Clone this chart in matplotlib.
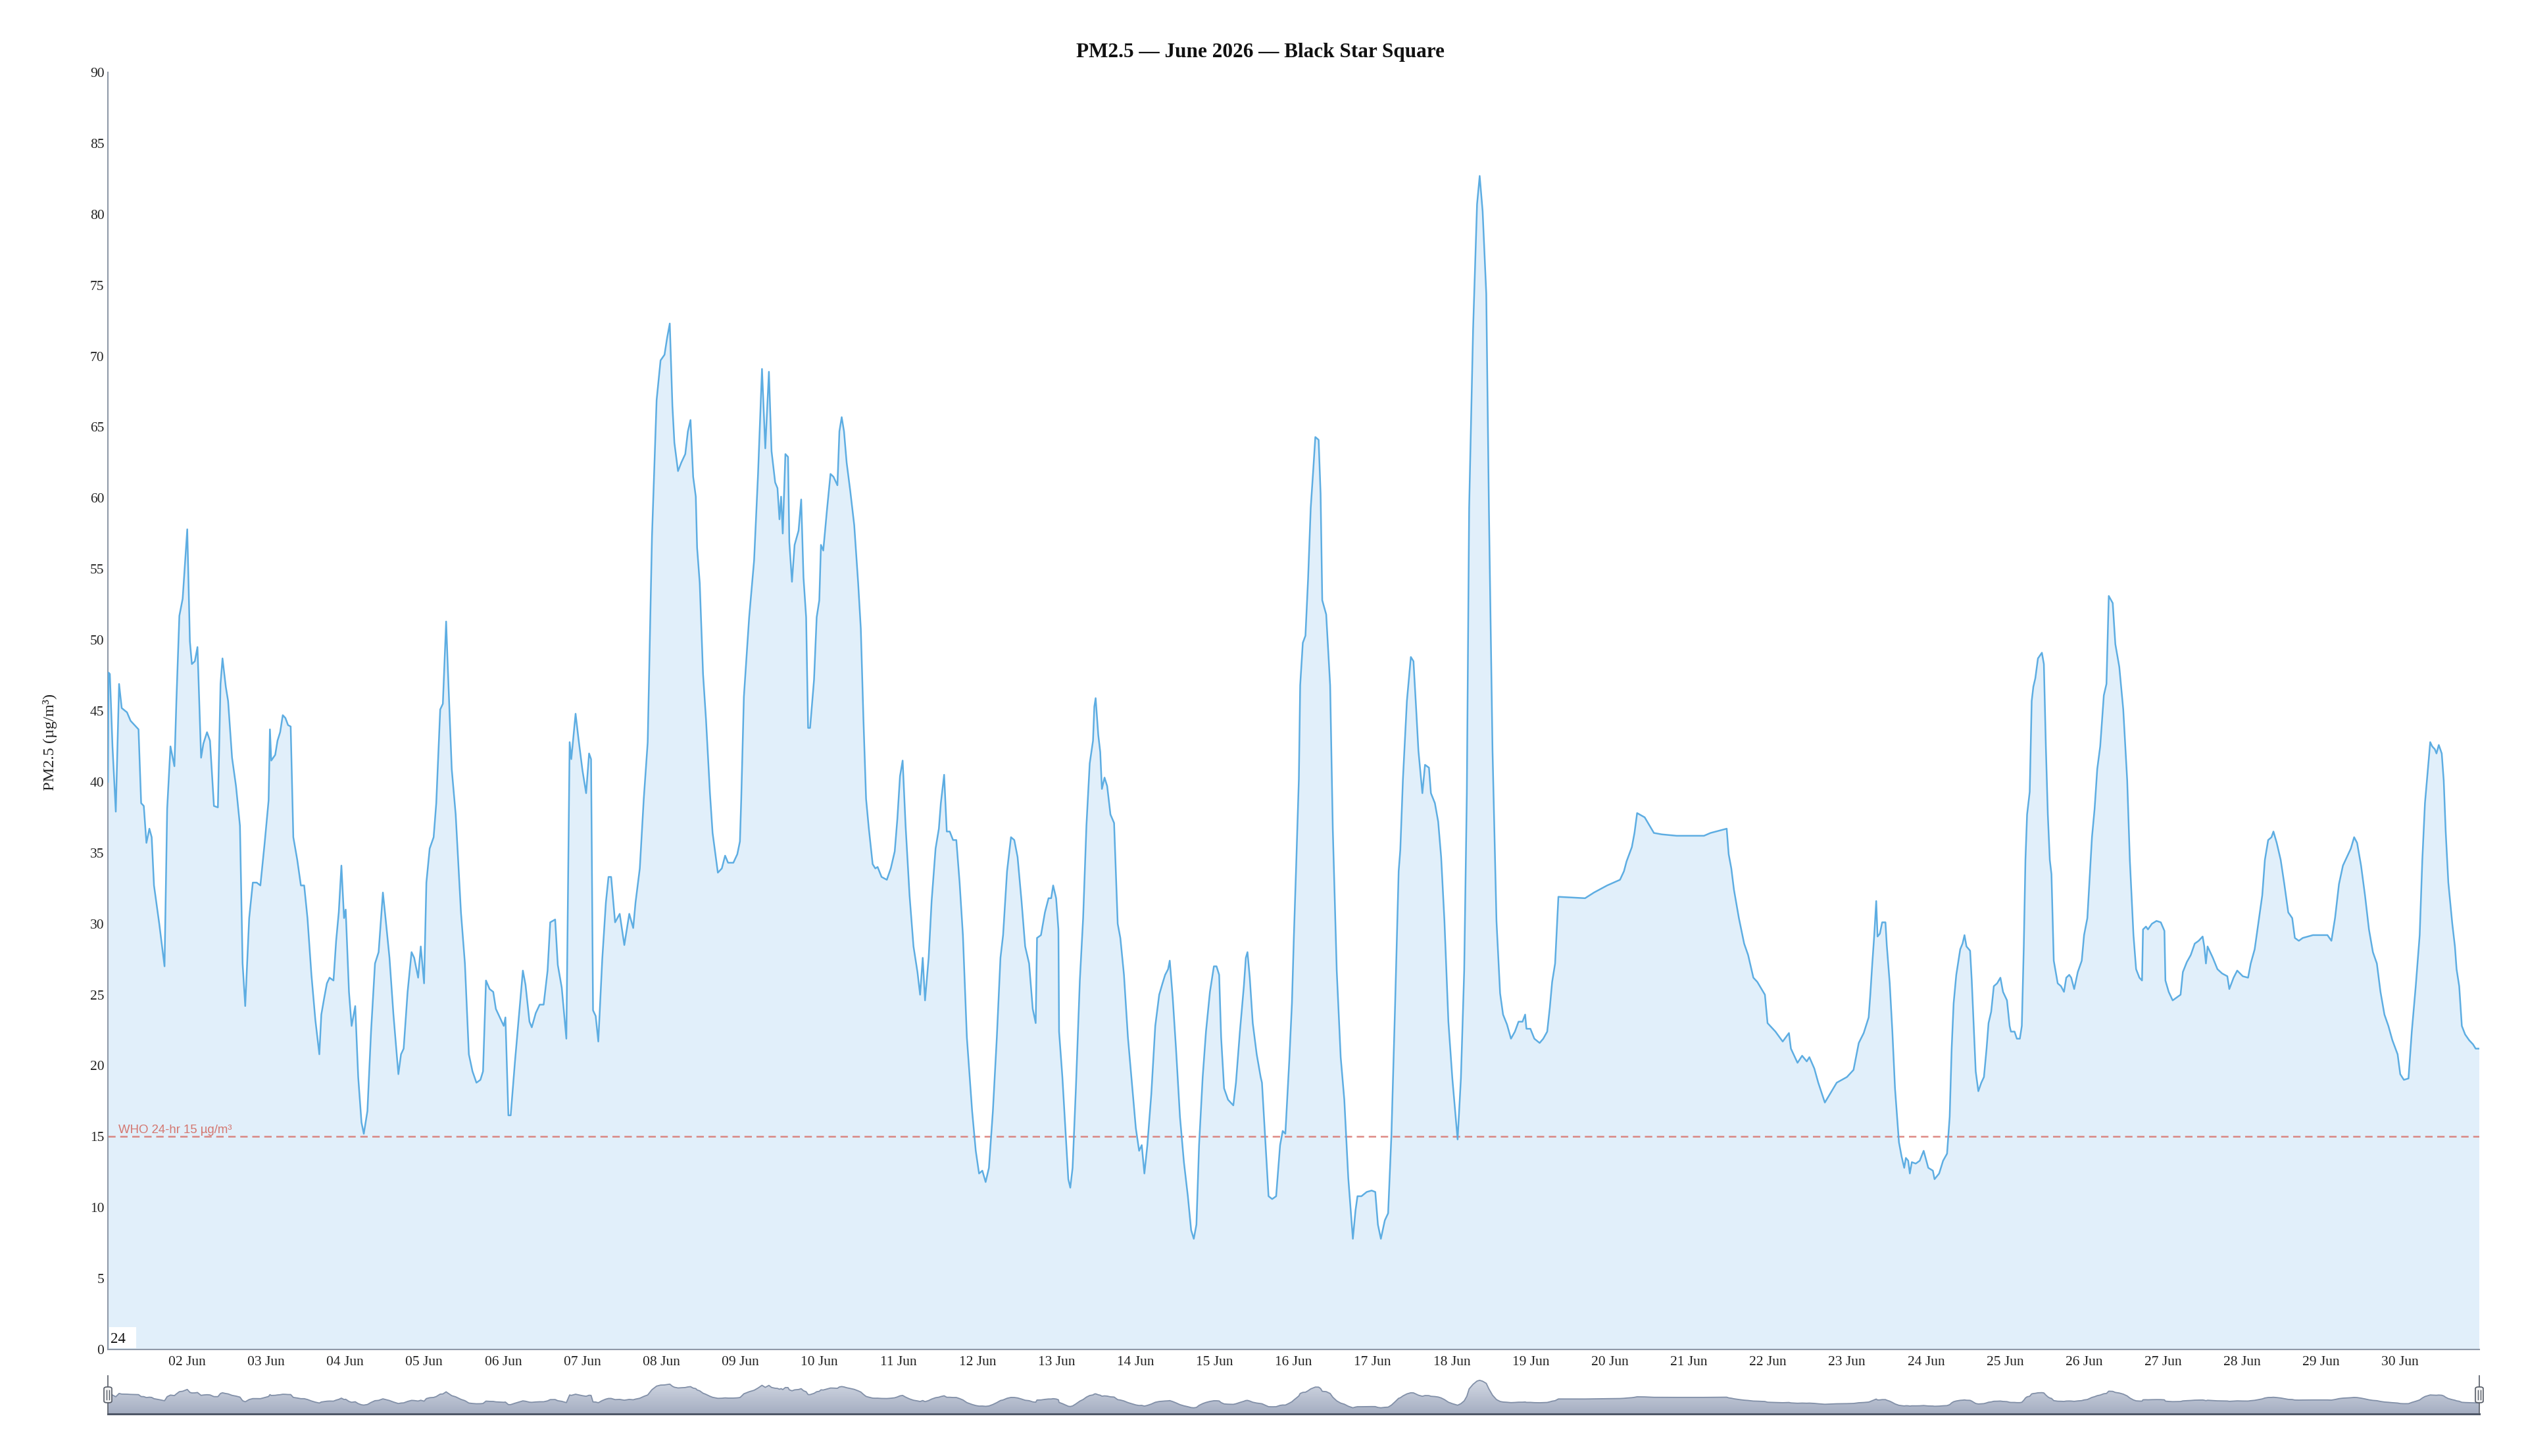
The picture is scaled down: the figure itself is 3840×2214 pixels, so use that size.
import numpy as np
import pandas as pd
import matplotlib
matplotlib.use("Agg")
import matplotlib.pyplot as plt
import matplotlib.dates as mdates
from matplotlib.colors import LinearSegmentedColormap
from matplotlib.patches import FancyBboxPatch, Rectangle

# PM2.5 readings, (hours since 01 Jun 00:00, value in ug/m3)
june_01_05 = [
    (0, 40.0), (0.2, 47.7), (0.6, 47.6), (1.4, 42.5), (2.4, 37.9), (3.4, 46.9), (4.2, 45.2),
    (5.8, 44.9), (6.9, 44.3), (9.3, 43.7), (10.1, 38.5), (10.9, 38.3), (11.7, 35.7), (12.6, 36.7),
    (13.3, 36.1), (14.0, 32.7), (15.6, 30.0), (17.2, 27.0), (18.0, 38.1), (19.0, 42.5), (20.2, 41.1),
    (20.8, 45.7), (21.7, 51.7), (22.7, 52.9), (24.1, 57.8), (24.9, 49.9), (25.5, 48.3), (26.4, 48.5),
    (27.2, 49.5), (28.3, 41.7), (29.0, 42.7), (30.1, 43.5), (31.0, 42.9), (32.2, 38.3), (33.4, 38.2),
    (34.2, 46.9), (34.8, 48.7), (35.8, 46.7), (36.5, 45.7), (37.7, 41.7), (38.9, 39.7), (40.1, 36.9),
    (40.9, 27.2), (41.7, 24.2), (42.9, 30.4), (44.0, 32.9), (45.2, 32.9), (46.3, 32.7), (47.6, 35.7),
    (48.8, 38.7), (49.2, 43.7), (49.6, 41.5), (50.8, 41.9), (51.5, 42.9), (52.3, 43.5), (53.1, 44.7),
    (53.9, 44.5), (54.7, 44.0), (55.5, 43.9), (56.3, 36.1), (57.5, 34.5), (58.6, 32.7), (59.6, 32.7),
    (60.6, 30.4), (61.8, 26.4), (63.0, 23.2), (64.2, 20.8), (64.8, 23.6), (65.7, 24.8), (66.5, 25.8),
    (67.3, 26.2), (68.5, 26.0), (69.3, 28.8), (70.1, 30.8), (70.9, 34.1), (71.7, 30.4), (72.2, 31.0),
    (73.2, 25.2), (74.0, 22.8), (75.1, 24.2), (76.0, 19.2), (77.0, 16.0), (77.7, 15.2), (78.8, 16.8),
    (79.9, 22.4), (81.1, 27.2), (82.2, 28.0), (83.5, 32.2), (84.3, 30.4), (85.5, 27.6), (86.7, 23.6),
    (88.2, 19.4), (89.0, 20.8), (89.8, 21.2), (91.0, 25.2), (92.2, 28.0), (93.0, 27.6), (94.2, 26.2),
    (95.0, 28.4), (96.0, 25.8), (96.7, 32.9), (97.7, 35.3), (98.9, 36.1), (99.7, 38.5), (100.9, 45.1),
    (101.7, 45.5), (102.7, 51.3), (103.2, 48.1), (104.4, 40.9), (105.6, 37.7), (107.2, 30.8),
    (108.4, 27.2), (109.6, 20.8), (110.7, 19.6), (111.9, 18.8), (113.1, 19.0), (113.9, 19.6),
    (114.8, 26.0), (115.9, 25.4), (117.0, 25.2), (117.8, 24.0), (119.0, 23.4), (120.2, 22.8),
]
june_06_10 = [
    (120.7, 23.4), (121.6, 16.5), (122.3, 16.5), (123.6, 20.3), (124.8, 23.5), (126.0, 26.7),
    (126.8, 25.7), (128.0, 23.1), (128.7, 22.7), (129.9, 23.7), (131.1, 24.3), (132.3, 24.3),
    (133.5, 26.7), (134.3, 30.1), (135.8, 30.3), (136.6, 27.1), (137.8, 25.5), (139.2, 21.9),
    (140.2, 42.8), (140.7, 41.6), (142.0, 44.8), (142.9, 43.0), (144.1, 40.8), (145.2, 39.2),
    (146.1, 42.0), (146.7, 41.6), (147.3, 23.9), (148.1, 23.5), (148.9, 21.7), (150.1, 27.5),
    (151.2, 31.5), (152.0, 33.3), (152.8, 33.3), (154.0, 30.1), (155.4, 30.7), (156.8, 28.5),
    (158.3, 30.7), (159.5, 29.7), (160.2, 31.5), (161.5, 33.9), (162.7, 38.8), (163.9, 42.8),
    (164.7, 51.6), (165.2, 57.3), (166.6, 66.9), (167.8, 69.7), (169.0, 70.1), (169.8, 71.3),
    (170.6, 72.3), (171.4, 66.5), (172.0, 63.9), (173.1, 61.9), (174.1, 62.5), (175.3, 63.1),
    (176.1, 64.7), (176.9, 65.5), (177.7, 61.5), (178.5, 60.1), (178.9, 56.5), (179.7, 54.0),
    (180.7, 47.6), (181.6, 44.4), (182.8, 39.2), (183.6, 36.4), (185.2, 33.6), (186.4, 33.9),
    (187.4, 34.8), (188.3, 34.3), (189.9, 34.3), (191.1, 34.9), (191.9, 35.8), (192.3, 38.8),
    (193.1, 46.0), (194.7, 51.6), (196.2, 55.6), (197.4, 61.7), (198.6, 69.1), (199.6, 63.5),
    (200.2, 66.5), (200.7, 68.9), (201.5, 63.3), (202.6, 61.1), (203.3, 60.7), (203.9, 58.5),
    (204.4, 60.1), (204.9, 57.5), (205.7, 63.1), (206.5, 62.9), (206.9, 56.9), (207.7, 54.1),
    (208.5, 56.7), (209.7, 57.7), (210.5, 59.9), (211.2, 54.4), (212.0, 51.6), (212.6, 43.8),
    (213.2, 43.8), (214.4, 47.2), (215.2, 51.6), (216.0, 52.8), (216.5, 56.7), (217.2, 56.3),
    (218.3, 59.1), (219.4, 61.7), (220.3, 61.5), (221.5, 60.9), (222.1, 64.7), (222.8, 65.7),
    (223.5, 64.7), (224.3, 62.5), (225.4, 60.5), (226.6, 58.1), (227.8, 54.0), (228.6, 50.8),
    (229.4, 44.4), (230.2, 38.8), (231.0, 36.8), (232.2, 34.2), (233.0, 33.9), (233.7, 34.0),
    (234.9, 33.3), (236.5, 33.1), (237.7, 33.9), (238.9, 35.1), (239.7, 37.4), (240.5, 40.4),
]
june_11_15 = [
    (241.3, 41.5), (242.2, 36.9), (243.4, 32.0), (244.6, 28.4), (245.8, 26.6), (246.6, 25.0),
    (247.4, 27.6), (248.1, 24.6), (249.2, 27.6), (250.1, 31.6), (251.3, 35.3), (252.3, 36.7),
    (252.9, 38.5), (253.9, 40.5), (254.7, 36.5), (255.6, 36.5), (256.6, 35.9), (257.6, 35.9),
    (258.6, 32.9), (259.6, 29.2), (260.8, 22.0), (262.4, 16.8), (263.5, 14.0), (264.5, 12.4),
    (265.5, 12.6), (266.5, 11.8), (267.5, 12.8), (268.7, 16.8), (269.9, 22.0), (271.0, 27.6),
    (271.8, 29.2), (273.0, 33.7), (274.2, 36.1), (275.2, 35.9), (276.2, 34.7), (277.4, 31.6),
    (278.5, 28.4), (279.7, 27.2), (280.8, 24.0), (281.7, 23.0), (282.1, 29.0), (283.3, 29.2),
    (284.5, 30.8), (285.6, 31.8), (286.4, 31.8), (287.0, 32.7), (287.9, 31.8), (288.6, 29.6),
    (288.8, 22.4), (289.8, 19.2), (290.8, 15.2), (291.6, 12.0), (292.2, 11.4), (292.9, 12.8),
    (293.9, 18.4), (295.1, 26.0), (296.1, 30.4), (297.1, 36.9), (298.1, 41.3), (299.1, 42.9),
    (299.5, 45.3), (299.9, 45.9), (300.7, 43.3), (301.3, 42.1), (301.8, 39.5), (302.6, 40.3),
    (303.4, 39.7), (304.4, 37.7), (305.5, 37.1), (306.6, 30.0), (307.4, 29.0), (308.5, 26.4),
    (309.7, 22.0), (310.9, 18.8), (312.1, 15.6), (313.1, 14.0), (313.9, 14.4), (314.7, 12.4),
    (315.6, 14.4), (316.8, 18.0), (318.0, 22.8), (319.2, 25.0), (320.2, 25.8), (321.0, 26.4),
    (321.9, 26.8), (322.4, 27.4), (323.3, 24.8), (324.3, 21.2), (325.5, 16.4), (326.7, 13.2),
    (327.9, 10.8), (328.9, 8.4), (329.7, 7.8), (330.5, 8.8), (331.3, 14.4), (332.4, 19.2),
    (333.4, 22.4), (334.6, 25.2), (335.8, 27.0), (336.6, 27.0), (337.4, 26.4), (338.0, 22.0),
    (338.9, 18.4), (340.1, 17.6), (341.7, 17.2), (342.5, 18.8), (343.7, 22.4), (344.9, 25.6),
    (345.5, 27.6), (346.0, 28.0), (346.7, 26.2), (347.6, 23.0), (348.8, 20.8), (350.0, 19.2),
    (350.4, 18.8), (351.2, 15.6), (352.4, 10.8), (353.5, 10.6), (354.7, 10.8), (355.9, 14.4),
    (356.7, 15.4), (357.5, 15.2), (358.7, 20.4), (359.5, 24.4),
]
june_16_20 = [
    (360.1, 29.2), (360.8, 34.2), (361.6, 40.2), (362.0, 46.8), (362.8, 49.8), (363.6, 50.3),
    (364.4, 54.3), (365.2, 59.3), (366.0, 62.1), (366.6, 64.3), (367.6, 64.1), (368.2, 60.3),
    (368.7, 52.8), (369.9, 51.8), (371.1, 46.8), (371.9, 36.7), (373.1, 26.7), (374.3, 20.6),
    (375.4, 17.6), (376.6, 12.1), (378.0, 7.8), (378.8, 9.8), (379.4, 10.8), (380.6, 10.8),
    (382.2, 11.1), (383.7, 11.2), (384.8, 11.1), (385.6, 8.8), (386.5, 7.8), (387.7, 9.1),
    (388.7, 9.6), (389.7, 15.1), (390.8, 24.1), (391.9, 33.7), (392.4, 35.2), (393.2, 40.2),
    (394.4, 45.7), (395.6, 48.8), (396.4, 48.5), (397.2, 45.2), (397.9, 42.2), (399.1, 39.2),
    (399.9, 41.2), (401.1, 41.0), (401.7, 39.2), (402.9, 38.5), (403.9, 37.2), (404.8, 34.7),
    (405.8, 30.2), (407.0, 23.1), (408.2, 19.1), (409.8, 14.8), (410.8, 19.1), (411.8, 26.7),
    (412.6, 39.2), (413.3, 59.3), (414.5, 71.9), (415.7, 80.7), (416.5, 82.7), (417.4, 80.2),
    (418.5, 74.4), (419.3, 59.3), (420.4, 42.2), (421.6, 30.2), (422.7, 25.1), (423.6, 23.6),
    (424.8, 22.9), (426.0, 21.9), (427.2, 22.4), (428.3, 23.1), (429.5, 23.1), (430.3, 23.6),
    (430.7, 22.6), (431.9, 22.6), (433.1, 21.9), (434.7, 21.6), (435.8, 21.9), (437.0, 22.4),
    (437.8, 24.1), (438.5, 25.9), (439.4, 27.2), (440.4, 31.9), (448.5, 31.8), (451.2, 32.2),
    (455.2, 32.7), (459.1, 33.1), (460.3, 33.7), (461.1, 34.4), (462.7, 35.4), (463.5, 36.4),
    (464.3, 37.8), (466.6, 37.5), (469.4, 36.4), (471.8, 36.3),
]
june_21_25 = [
    (476.3, 36.2), (484.6, 36.2), (486.6, 36.4), (491.5, 36.7), (492.1, 34.9), (492.9, 33.9),
    (493.7, 32.4), (495.2, 30.4), (496.8, 28.6), (498.0, 27.8), (499.6, 26.2), (500.8, 25.9),
    (503.1, 25.0), (503.9, 23.0), (506.3, 22.4), (508.5, 21.7), (510.4, 22.3), (511.0, 21.2),
    (513.0, 20.2), (514.4, 20.7), (515.8, 20.3), (516.6, 20.6), (518.1, 19.8), (519.3, 18.8),
    (521.3, 17.4), (524.9, 18.8), (528.0, 19.2), (530.0, 19.7), (531.6, 21.6), (533.1, 22.3),
    (534.6, 23.4), (535.1, 25.0), (535.7, 27.2), (536.3, 29.2), (536.9, 31.6), (537.3, 29.1),
    (538.0, 29.3), (538.7, 30.1), (539.7, 30.1), (540.1, 28.5), (541.0, 25.8), (541.8, 22.4),
    (542.6, 18.4), (543.8, 14.6), (544.6, 13.6), (545.4, 12.8), (545.9, 13.5), (546.6, 13.3),
    (547.1, 12.4), (547.7, 13.2), (548.9, 13.1), (550.1, 13.3), (551.3, 14.0), (552.7, 12.8),
    (554.1, 12.6), (554.6, 12.0), (556.0, 12.4), (557.2, 13.3), (558.4, 13.8), (559.2, 16.4),
    (559.8, 21.2), (560.4, 24.4), (561.2, 26.4), (562.4, 28.2), (563.1, 28.6), (563.7, 29.2),
    (564.3, 28.4), (565.4, 28.1), (565.9, 26.0), (566.7, 21.8), (567.1, 19.6), (567.9, 18.2),
    (568.8, 18.8), (569.6, 19.2), (570.4, 21.2), (571.0, 23.0), (571.8, 23.8), (572.6, 25.6),
    (573.6, 25.8), (574.6, 26.2), (575.4, 25.2), (576.6, 24.6), (577.4, 22.8), (577.8, 22.4),
    (578.9, 22.4), (579.6, 21.9), (580.5, 21.9), (581.1, 22.8), (581.7, 28.4), (582.2, 34.5),
    (582.7, 37.7), (583.5, 39.3), (584.1, 45.7), (584.6, 46.7), (585.2, 47.3), (586.0, 48.7),
    (587.2, 49.1), (587.8, 48.3), (588.4, 42.5), (589.0, 37.7), (589.6, 34.5), (590.1, 33.5),
    (590.8, 27.4), (592.0, 25.8), (593.0, 25.6), (593.9, 25.2), (594.6, 26.2), (595.5, 26.4),
]
june_26_30 = [
    (596.1, 26.2), (597.0, 25.4), (598.1, 26.6), (599.3, 27.4), (600.0, 29.2), (601.0, 30.4),
    (601.8, 33.7), (602.4, 36.1), (603.2, 38.1), (604.0, 40.9), (604.9, 42.5), (606.0, 46.1),
    (606.8, 46.9), (607.5, 53.1), (608.7, 52.6), (609.5, 49.7), (610.7, 48.1), (611.9, 45.1),
    (613.1, 40.1), (613.9, 34.5), (615.0, 29.2), (615.8, 26.8), (616.8, 26.2), (617.6, 26.0),
    (617.9, 29.6), (618.8, 29.8), (619.4, 29.6), (620.6, 30.0), (622.0, 30.2), (623.3, 30.1),
    (624.4, 29.5), (624.7, 26.0), (625.7, 25.2), (626.9, 24.6), (628.1, 24.8), (629.3, 25.0),
    (630.0, 26.6), (631.2, 27.3), (632.4, 27.8), (633.6, 28.6), (634.8, 28.8), (636.0, 29.1),
    (636.5, 28.4), (637.0, 27.2), (637.5, 28.4), (639.1, 27.6), (640.5, 26.8), (641.9, 26.5),
    (643.5, 26.3), (644.1, 25.4), (645.4, 26.2), (646.5, 26.7), (648.2, 26.3), (649.8, 26.2),
    (650.6, 27.2), (651.8, 28.2), (652.9, 30.0), (654.1, 32.0), (654.9, 34.5), (655.9, 35.9),
    (656.9, 36.1), (657.5, 36.5), (658.5, 35.7), (659.7, 34.5), (660.8, 32.8), (662.0, 30.8),
    (663.2, 30.4), (664.0, 29.0), (665.2, 28.8), (666.4, 29.0), (669.5, 29.2), (673.9, 29.2),
    (675.1, 28.8), (676.2, 30.4), (677.4, 32.8), (678.6, 34.1), (679.8, 34.7), (681.0, 35.3),
    (682.0, 36.1), (682.9, 35.7), (684.1, 34.1), (685.3, 32.0), (686.5, 29.6), (687.7, 28.0),
    (688.9, 27.2), (690.0, 25.2), (691.2, 23.6), (692.4, 22.8), (693.6, 21.8), (695.2, 20.8),
    (696.0, 19.4), (697.1, 19.0), (698.5, 19.1), (699.5, 22.4), (700.7, 25.6), (701.9, 29.2),
    (702.7, 34.5), (703.5, 38.5), (704.4, 40.9), (705.1, 42.8), (705.7, 42.5), (706.5, 42.3),
    (707.0, 42.0), (707.7, 42.6), (708.6, 42.0), (709.2, 40.1), (709.8, 36.5), (710.6, 32.9),
    (711.8, 30.0), (712.6, 28.4), (713.1, 26.8), (713.9, 25.6), (714.7, 22.8), (715.7, 22.2),
    (716.9, 21.8), (718.1, 21.5), (718.9, 21.2), (719.9, 21.2),
]

title = "PM2.5 \u2014 June 2026 \u2014 Black Star Square"
y_label = "PM2.5 (\u00b5g/m\u00b3)"
who_level = 15
who_label = "WHO 24-hr 15 \u00b5g/m\u00b3"
y_ticks = list(range(0, 95, 5))

readings = june_01_05 + june_06_10 + june_11_15 + june_16_20 + june_21_25 + june_26_30
hours = np.array([h for h, _ in readings])
pm25 = np.array([v for _, v in readings])
times = pd.Timestamp("2026-06-01") + pd.to_timedelta(hours, unit="h")
xs = mdates.date2num(times.to_pydatetime())
x0 = mdates.date2num(pd.Timestamp("2026-06-01").to_pydatetime())
x1 = mdates.date2num(pd.Timestamp("2026-07-01").to_pydatetime())

W, H = 3840, 2214
serif = ["Liberation Serif", "DejaVu Serif"]
plt.rcParams["font.family"] = serif


def fx(px):
    return px / W


def fy(py):
    return 1 - py / H


fig = plt.figure(figsize=(W / 100, H / 100), dpi=100)

# main chart
ax = fig.add_axes([fx(164), fy(2052), fx(3769) - fx(164), fy(110) - fy(2052)])
ax.fill_between(xs, pm25, 0, color="#e1effa", lw=0, zorder=1)
ax.plot(xs, pm25, color="#5dade2", lw=1.8, zorder=3)
ax.axhline(who_level, color="#d8756e", lw=1.8, alpha=0.85, dashes=(4.5, 2.8), zorder=2)

ax.set_xlim(x0, x1)
ax.set_ylim(0, 90)
ax.set_yticks(y_ticks)
ax.xaxis.set_major_locator(mdates.DayLocator(bymonthday=range(2, 31)))
ax.xaxis.set_major_formatter(mdates.DateFormatter("%d %b"))
ax.tick_params(axis="both", length=0, labelsize=15.5, colors="#222222")
ax.tick_params(axis="x", pad=7)
ax.tick_params(axis="y", pad=4)
for s in ["top", "right"]:
    ax.spines[s].set_visible(False)
for s in ["left", "bottom"]:
    ax.spines[s].set_color("#8f99a8")
    ax.spines[s].set_linewidth(1.5)

fig.text(fx(1916), fy(80), title, ha="center", va="center",
         fontsize=22.5, fontweight="bold", color="#111111")
fig.text(fx(76), fy(1128), y_label, ha="center", va="center",
         rotation=90, fontsize=17.5, color="#222222")
fig.text(fx(180), fy(1723), who_label, ha="left", va="baseline",
         fontsize=13.4, color="#d47770", family=["Liberation Sans", "DejaVu Sans"])

# small "24" box at the bottom left of the plot
fig.patches.append(Rectangle((fx(166), fy(2050)), fx(207) - fx(166), fy(2018) - fy(2050),
                             transform=fig.transFigure, facecolor="white", edgecolor="none", zorder=5))
fig.text(fx(168), fy(2042), "24", ha="left", va="baseline", fontsize=16.5, color="#111111", zorder=6)

# navigator strip
nav = fig.add_axes([fx(164), fy(2150), fx(3769) - fx(164), fy(2092) - fy(2150)])
nav_lo, nav_hi = -8.9, 95.1
grad = np.linspace(0, 1, 256).reshape(-1, 1)
cmap = LinearSegmentedColormap.from_list("nav", ["#a4adc1", "#d9dee8"])
im = nav.imshow(grad, extent=(x0, x1, nav_lo, nav_hi), origin="lower",
                cmap=cmap, aspect="auto", zorder=1)
poly = nav.fill_between(xs, pm25, nav_lo, facecolor="none", edgecolor="none")
im.set_clip_path(poly.get_paths()[0], transform=nav.transData)
nav.plot(xs, pm25, color="#8290a8", lw=1.3, zorder=2)
nav.set_xlim(x0, x1)
nav.set_ylim(nav_lo, nav_hi)
nav.set_xticks([])
nav.set_yticks([])
for s in ["top", "left", "right"]:
    nav.spines[s].set_visible(False)
nav.spines["bottom"].set_color("#4f5767")
nav.spines["bottom"].set_linewidth(2.2)

# navigator handles
for hx in (164, 3769):
    fig.add_artist(plt.Line2D([fx(hx), fx(hx)], [fy(2092), fy(2150)], transform=fig.transFigure,
                              color="#555b66", lw=1.2, zorder=7))
    fig.patches.append(FancyBboxPatch((fx(hx - 6), fy(2133)), fx(12), fy(2109) - fy(2133),
                                      boxstyle="round,pad=0,rounding_size=0.0012",
                                      transform=fig.transFigure, facecolor="#f2f2f2",
                                      edgecolor="#555b66", lw=1.2, zorder=8))
    for gx in (hx - 2, hx + 2):
        fig.add_artist(plt.Line2D([fx(gx), fx(gx)], [fy(2114), fy(2128)], transform=fig.transFigure,
                                  color="#555b66", lw=1.0, zorder=9))

fig.savefig("out.png", dpi=100, facecolor="white")
